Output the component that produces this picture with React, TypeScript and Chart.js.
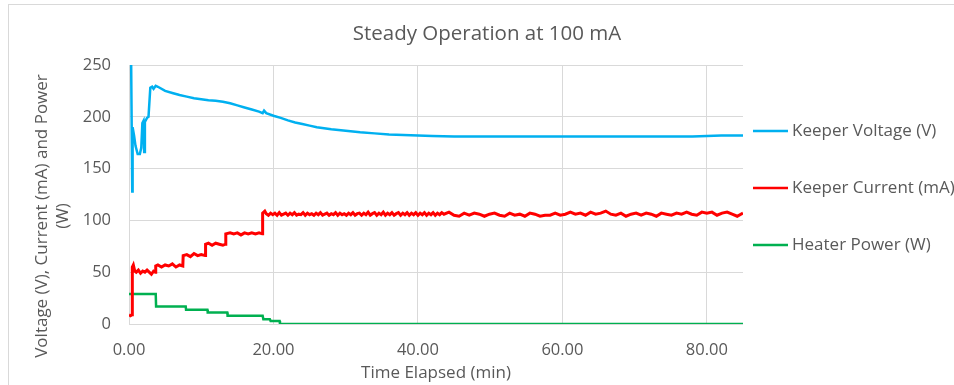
import React, { useEffect, useRef } from "react";
import { Chart, registerables } from "chart.js";

Chart.register(...registerables);

const FONT = "'Open Sans', 'Noto Sans', sans-serif";
const TEXT = "#595959";
const GRID = "#d9d9d9";

const chartTitle = "Steady Operation at 100 mA";
const xTitle = "Time Elapsed (min)";
const yTitleLines = ["Voltage (V), Current (mA) and Power", "(W)"];
const seriesNames = ["Keeper Voltage (V)", "Keeper Current (mA)", "Heater Power (W)"];
const seriesColors = ["#00B0F0", "#FF0000", "#00B050"];
const seriesWidths = [2.5, 3, 2.5];

const xMin = 0;
const xMax = 85;
const xStep = 20;
const yMin = 0;
const yMax = 250;
const yStep = 50;

// Keeper voltage (V)
const voltageTime = [
  0.3, 0.38, 0.45, 0.5, 0.7, 0.9, 1.2, 1.5, 1.7, 1.85,
  2.0, 2.1, 2.2, 2.5, 2.7, 2.95, 3.2, 3.4, 3.7, 4.0,
  5, 6, 7, 8, 9, 10, 11, 12, 13, 14,
  15, 16, 17, 18, 18.5, 18.7, 19, 20, 21, 22,
  23, 24, 25, 26, 27, 28, 30, 32, 34, 36,
  38, 40, 42, 45, 50, 60, 70, 78, 80, 82,
  85,
];
const voltageValues = [
  250, 250, 128, 190, 182, 172, 164, 164, 170, 194,
  196, 166, 195, 199, 200, 228, 229, 227, 230, 229,
  225, 223, 221, 219.5, 218, 217, 216, 215.5, 214.5, 213,
  211, 209, 207, 205, 203.5, 206, 203.5, 201, 199, 196.5,
  194.5, 193, 191.5, 190, 189, 188, 186.5, 185, 184, 183,
  182.5, 182, 181.5, 181, 181, 181, 181, 181, 181.5, 182,
  182,
];

// Keeper current (mA)
const currentTime = [
  0, 0.2, 0.44, 0.46, 0.6, 0.8, 1.0, 1.3, 1.6, 1.9,
  2.2, 2.5, 2.8, 3.1, 3.4, 3.65, 3.7, 4.0, 4.5, 5.0,
  5.5, 6.0, 6.5, 7.0, 7.45, 7.5, 8.0, 8.5, 9.0, 9.5,
  10.0, 10.55, 10.6, 11.0, 11.5, 12.0, 12.5, 13.0, 13.35, 13.4,
  14.0, 14.5, 15.0, 15.5, 16.0, 16.5, 17.0, 17.5, 18.0, 18.45,
  18.5, 18.8,
  19.0, 19.3, 19.6, 19.9, 20.2, 20.5, 20.8, 21.1, 21.4, 21.7,
  22.0, 22.3, 22.6, 22.9, 23.2, 23.5, 23.8, 24.1, 24.4, 24.7,
  25.0, 25.3, 25.6, 25.9, 26.2, 26.5, 26.8, 27.1, 27.4, 27.7,
  28.0, 28.3, 28.6, 28.9, 29.2, 29.5, 29.8, 30.1, 30.4, 30.7,
  31.0, 31.3, 31.6, 31.9, 32.2, 32.5, 32.8, 33.1, 33.4, 33.7,
  34.0, 34.3, 34.6, 34.9, 35.2, 35.5, 35.8, 36.1, 36.4, 36.7,
  37.0, 37.3, 37.6, 37.9, 38.2, 38.5, 38.8, 39.1, 39.4, 39.7,
  40.0, 40.3, 40.6, 40.9, 41.2, 41.5, 41.8, 42.1, 42.4, 42.7,
  43.0, 43.3,
  43.6, 44.3, 45.0, 45.7, 46.4, 47.1, 47.8, 48.5, 49.2, 49.9,
  50.6, 51.3, 52.0, 52.7, 53.4, 54.1, 54.8, 55.5, 56.2, 56.9,
  57.6, 58.3, 59.0, 59.7, 60.4, 61.1, 61.8, 62.5, 63.2, 63.9,
  64.6, 65.3, 66.0, 66.7, 67.4, 68.1, 68.8, 69.5, 70.2, 70.9,
  71.6, 72.3, 73.0, 73.7, 74.4, 75.1, 75.8, 76.5, 77.2, 77.9,
  78.6, 79.3, 80.0, 80.7, 81.4, 82.1, 82.8, 83.5, 84.2, 85.0,
];
const currentValues = [
  9, 8, 9, 55, 57, 51, 50, 52, 49, 51,
  50, 52, 50, 48, 51, 50, 56, 57, 55, 57,
  56, 58, 55, 57, 56, 66, 67, 65, 68, 66,
  67, 66, 77, 78, 76, 78, 77, 76, 77, 87,
  88, 87, 88, 86, 88, 87, 88, 87, 88, 87,
  107, 109,
  106.5, 105, 107, 105.5, 107, 105, 107.5, 105, 106, 107,
  105, 107, 105.5, 107.5, 105, 106, 105.5, 107.5, 105, 107,
  105.5, 106.5, 105, 107, 105.5, 107.5, 105, 106, 107, 105,
  106.5, 105.5, 107.5, 105, 107, 105.5, 106.5, 105, 107, 105.5,
  107.5, 105, 106.5, 107, 105, 107, 105.5, 108, 105, 106.5,
  107.5, 105, 107, 105.5, 108, 105, 107, 105.5, 107.5, 105,
  106.5, 107.5, 105, 107, 105.5, 107.5, 105, 107, 105.5, 107.5,
  105, 107, 105.5, 107.5, 105, 107, 105.5, 107.5, 105, 107,
  105.5, 107.5,
  106, 108, 105, 104, 107, 105, 107, 106, 104, 106,
  107, 105, 104, 107, 105, 106, 104, 107, 106, 104,
  105, 105, 107, 105, 106, 108, 106, 107, 105, 108,
  106, 107, 109, 106, 105, 107, 104, 106, 107, 105,
  107, 106, 104, 107, 106, 105, 107, 106, 108, 106,
  105, 108, 107, 108, 105, 107, 108, 106, 104, 107,
];

// Heater power (W)
const heaterTime = [0, 3.7, 3.75, 7.85, 7.9, 10.85, 10.9, 13.6, 13.65, 18.5, 18.6, 19.5, 19.6, 20.85, 20.9, 85];
const heaterValues = [29, 29, 17, 17, 13.8, 13.8, 11.2, 11.2, 8, 8, 4.5, 4.5, 3, 3, 0, 0];

const toPoints = (t: number[], v: number[]) =>
  t.slice(0, Math.min(t.length, v.length)).map((x, i) => ({ x, y: v[i] }));

const W = 974;
const H = 385;

const sideText = {
  id: "sideText",
  afterDraw(chart: any) {
    const { ctx, chartArea } = chart;
    ctx.save();
    ctx.fillStyle = TEXT;
    ctx.font = `17px ${FONT}`;
    ctx.textBaseline = "middle";
    // rotated y-axis title
    ctx.save();
    ctx.translate(42, chartArea.top + 151);
    ctx.rotate(-Math.PI / 2);
    ctx.textAlign = "center";
    yTitleLines.forEach((line, i) => ctx.fillText(line, 0, i * 21));
    ctx.restore();
    // legend
    chart.data.datasets.forEach((ds: any, i: number) => {
      const y = chartArea.top + 66 + i * 57;
      const x0 = chartArea.right + 10;
      ctx.strokeStyle = ds.borderColor;
      ctx.lineWidth = 2.5;
      ctx.beginPath();
      ctx.moveTo(x0, y);
      ctx.lineTo(x0 + 35, y);
      ctx.stroke();
      ctx.textAlign = "left";
      ctx.fillStyle = TEXT;
      ctx.fillText(ds.label, x0 + 39, y);
    });
    ctx.restore();
  },
};

export default function App() {
  const ref = useRef<HTMLCanvasElement>(null);
  useEffect(() => {
    if (!ref.current) return;
    const series = [
      toPoints(voltageTime, voltageValues),
      toPoints(currentTime, currentValues),
      toPoints(heaterTime, heaterValues),
    ];
    const chart = new Chart(ref.current, {
      type: "line",
      data: {
        datasets: series.map((data, i) => ({
          label: seriesNames[i],
          data,
          borderColor: seriesColors[i],
          backgroundColor: seriesColors[i],
          borderWidth: seriesWidths[i],
          pointRadius: 0,
          tension: 0,
          fill: false,
        })),
      },
      options: {
        animation: false,
        responsive: false,
        devicePixelRatio: 1,
        parsing: false,
        layout: { padding: 0 },
        plugins: {
          legend: { display: false },
          tooltip: { enabled: false },
          title: {
            display: true,
            text: chartTitle,
            color: TEXT,
            font: { family: FONT, size: 20.5, weight: "normal", lineHeight: 1.2 },
            padding: { top: 21.7, bottom: 18.7 },
          },
        },
        scales: {
          x: {
            type: "linear",
            position: "bottom",
            min: xMin,
            max: xMax,
            grid: { color: GRID, lineWidth: 1, drawTicks: false },
            border: { display: false },
            ticks: {
              stepSize: xStep,
              includeBounds: false,
              padding: 16,
              color: TEXT,
              font: { family: FONT, size: 16.5 },
              maxRotation: 0,
              callback: (v: any) => Number(v).toFixed(2),
            },
            title: {
              display: true,
              text: xTitle,
              color: TEXT,
              font: { family: FONT, size: 17, lineHeight: 1.2 },
              padding: { top: 0, bottom: 2 },
            },
            afterFit: (s: any) => {
              s.height = 61;
            },
          },
          y: {
            type: "linear",
            position: "left",
            min: yMin,
            max: yMax,
            grid: { color: GRID, lineWidth: 1, drawTicks: false },
            border: { display: false },
            ticks: {
              stepSize: yStep,
              padding: 18,
              color: TEXT,
              font: { family: FONT, size: 16.5 },
            },
            afterFit: (s: any) => {
              s.width = 129;
            },
          },
          yRight: {
            type: "linear",
            position: "right",
            min: 0,
            max: 1,
            grid: { display: false },
            border: { display: false },
            ticks: { display: false },
            afterFit: (s: any) => {
              s.width = W - 743;
            },
          },
        },
      } as any,
      plugins: [sideText],
    });
    return () => chart.destroy();
  }, []);

  return (
    <div
      style={{
        position: "fixed",
        left: 0,
        top: 0,
        width: 954,
        height: 385,
        overflow: "hidden",
        background: "#ffffff",
      }}
    >
      <div
        style={{
          position: "absolute",
          left: 8,
          top: 4,
          width: 2000,
          height: 2000,
          borderTop: `1px solid ${GRID}`,
          borderLeft: `1px solid ${GRID}`,
        }}
      />
      <canvas
        ref={ref}
        width={W}
        height={H}
        style={{ position: "absolute", left: 0, top: 0, width: W, height: H, display: "block" }}
      />
    </div>
  );
}
